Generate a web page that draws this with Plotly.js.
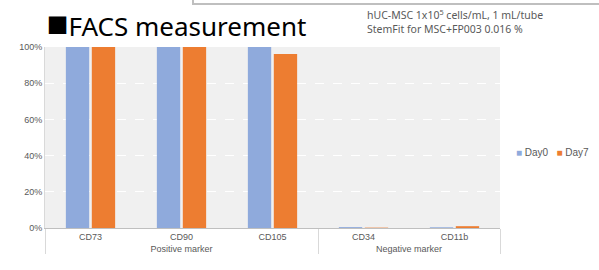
<!DOCTYPE html>
<html>
<head>
<meta charset="utf-8">
<script src="https://cdn.plot.ly/plotly-3.0.1.min.js"></script>
<style>html,body{margin:0;padding:0;background:#fff;}#chart{width:599px;height:270px;}</style>
</head>
<body>
<div id="chart"></div>
<script>
const groups = ["Positive marker", "Positive marker", "Positive marker", "Negative marker", "Negative marker"];
const markers = ["CD73", "CD90", "CD105", "CD34", "CD11b"];
const seriesNames = ["Day0", "Day7"];
const seriesColors = ["#8faadc", "#ed7d31"];
const day0 = [100, 100, 100, 0.5, 0.4];
const day7 = [100, 100, 96.1, 0.2, 1.0];
const yTicks = [0, 20, 40, 60, 80, 100];

const traces = [
  {type: "bar", name: seriesNames[0], x: [groups, markers], y: day0, marker: {color: seriesColors[0]}},
  {type: "bar", name: seriesNames[1], x: [groups, markers], y: day7, marker: {color: seriesColors[1]}}
];

const legendText = seriesNames.map((n, i) =>
  "<span style='color:" + seriesColors[i] + "'>■</span> " + n).join("   ");

const layout = {
  width: 599, height: 270,
  margin: {l: 45, r: 99, t: 47, b: 42, autoexpand: false},
  paper_bgcolor: "#ffffff",
  plot_bgcolor: "#f0f0f0",
  barmode: "group",
  bargap: 0.43,
  bargroupgap: 0.1,
  showlegend: false,
  title: {
    text: "<span style='font-size:36px'>■</span>FACS measurement",
    font: {family: "Noto Sans, Open Sans, sans-serif", size: 26, color: "#000000"},
    x: 0.078, xanchor: "left", xref: "container",
    y: 0.9, yanchor: "middle", yref: "container"
  },
  font: {family: "Liberation Sans, Arial, sans-serif", size: 9, color: "#595959"},
  xaxis: {
    type: "multicategory",
    showdividers: true,
    dividercolor: "#d9d9d9",
    dividerwidth: 1,
    tickfont: {size: 9, color: "#595959"},
    showline: true, linecolor: "#bfbfbf", linewidth: 1,
    showgrid: false, zeroline: false,
    fixedrange: true
  },
  yaxis: {
    range: [0, 100],
    tickvals: yTicks,
    ticktext: yTicks.map(v => v + "%"),
    tickfont: {size: 9, color: "#595959"},
    showgrid: true, gridcolor: "#ffffff", griddash: "dash", gridwidth: 1,
    zeroline: false,
    showline: true, linecolor: "#d9d9d9", linewidth: 1,
    ticks: "outside", ticklen: 0,
    fixedrange: true
  },
  annotations: [
    {
      text: "hUC-MSC 1x10<sup>5</sup> cells/mL, 1 mL/tube<br>StemFit for MSC+FP003 0.016 %",
      xref: "paper", yref: "paper",
      x: (365 - 45) / 455, xanchor: "left",
      y: (228 - 5) / 181, yanchor: "top",
      align: "left", showarrow: false,
      font: {family: "Noto Sans, sans-serif", size: 10.5, color: "#595959"}
    },
    {
      text: legendText,
      xref: "paper", yref: "paper",
      x: (514 - 45) / 455, xanchor: "left",
      y: (228 - 152) / 181, yanchor: "middle",
      align: "left", showarrow: false,
      font: {family: "Liberation Sans, Arial, sans-serif", size: 10, color: "#595959"}
    }
  ],
  shapes: [
    {
      type: "rect", xref: "paper", yref: "paper",
      x0: (193 - 45) / 455, x1: (600 - 45) / 455,
      y0: (228 - 4) / 181, y1: (228 + 20) / 181,
      line: {color: "#bfbfbf", width: 2}, fillcolor: "rgba(0,0,0,0)"
    }
  ]
};

Plotly.newPlot("chart", traces, layout, {displayModeBar: false, staticPlot: true});
</script>
</body>
</html>
